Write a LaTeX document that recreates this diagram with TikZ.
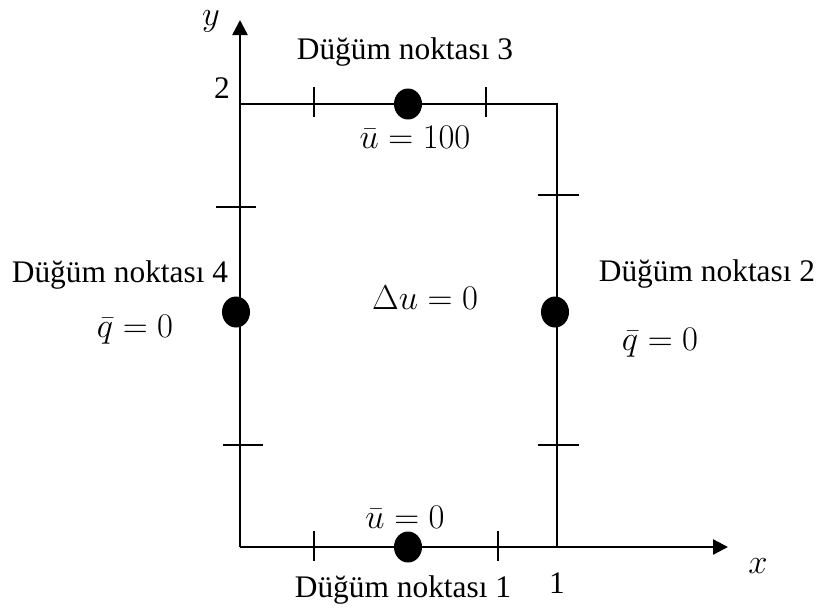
\documentclass[tikz,border=0pt]{standalone}
\usepackage{fontspec}
\setmainfont{Liberation Serif}
\usetikzlibrary{positioning, arrows.meta, shapes.geometric}

\begin{document}
\begin{tikzpicture}[
    x=0.5pt, y=-0.5pt,
    dot/.style={ellipse, fill=black, minimum width=14pt, minimum height=15.5pt, inner sep=0pt},
    edge/.style={line width=1pt, color=black},
    axis/.style={line width=1.2pt, -{Triangle[length=7.5pt, width=7.5pt]}},
    tickmark/.style={line width=1pt},
    mathlbl/.style={font=\fontsize{18}{20}\selectfont},
    every node/.style={font=\fontsize{15.7}{18}\selectfont, inner sep=0pt}
]
\useasboundingbox (0,0) rectangle (820,612);

% Corners and axis ends
\coordinate (origin) at (240,547);
\coordinate (xend) at (728,547);
\coordinate (yend) at (240,20);
\coordinate (topleft) at (240,104);
\coordinate (topright) at (557,104);
\coordinate (botright) at (557,547);

% Axes
\draw[axis] (origin) -- (xend);
\draw[axis] (origin) -- (yend);

% Domain boundary
\draw[edge] (topleft) -- (topright) -- (botright);

% Element ticks
\foreach \x in {314,486} \draw[tickmark] (\x,87) -- (\x,117);
\foreach \x in {314,498} \draw[tickmark] (\x,531) -- (\x,561);
\draw[tickmark] (216,207) -- (256,207);
\draw[tickmark] (223,445) -- (263,445);
\foreach \y in {195,445} \draw[tickmark] (538,\y) -- (579,\y);

% Nodal points
\node[dot] (n1) at (408,547) {};
\node[dot] (n2) at (555,312) {};
\node[dot] (n3) at (408,104) {};
\node[dot] (n4) at (236,312) {};

% Labels
\node[mathlbl] (ylabel) at (211,21) {$y$};
\node[mathlbl] (xlabel) at (758,566) {$x$};
\node (ytwo) at (222,88) {2};
\node (xone) at (557,583) {1};

\node (l3) at (405,52) {Düğüm noktası 3};
\node[mathlbl] (bc3) at (415,137) {$\bar{u} = 100$};
\node (l4) at (120,275) {Düğüm noktası 4};
\node[mathlbl] (bc4) at (135,330) {$\bar{q} = 0$};
\node (l2) at (707,274) {Düğüm noktası 2};
\node[mathlbl] (bc2) at (660,343) {$\bar{q} = 0$};
\node (l1) at (403,590) {Düğüm noktası 1};
\node[mathlbl] (bc1) at (405,517) {$\bar{u} = 0$};
\node[mathlbl] (gov) at (425,298) {$\Delta u = 0$};

\end{tikzpicture}
\end{document}
